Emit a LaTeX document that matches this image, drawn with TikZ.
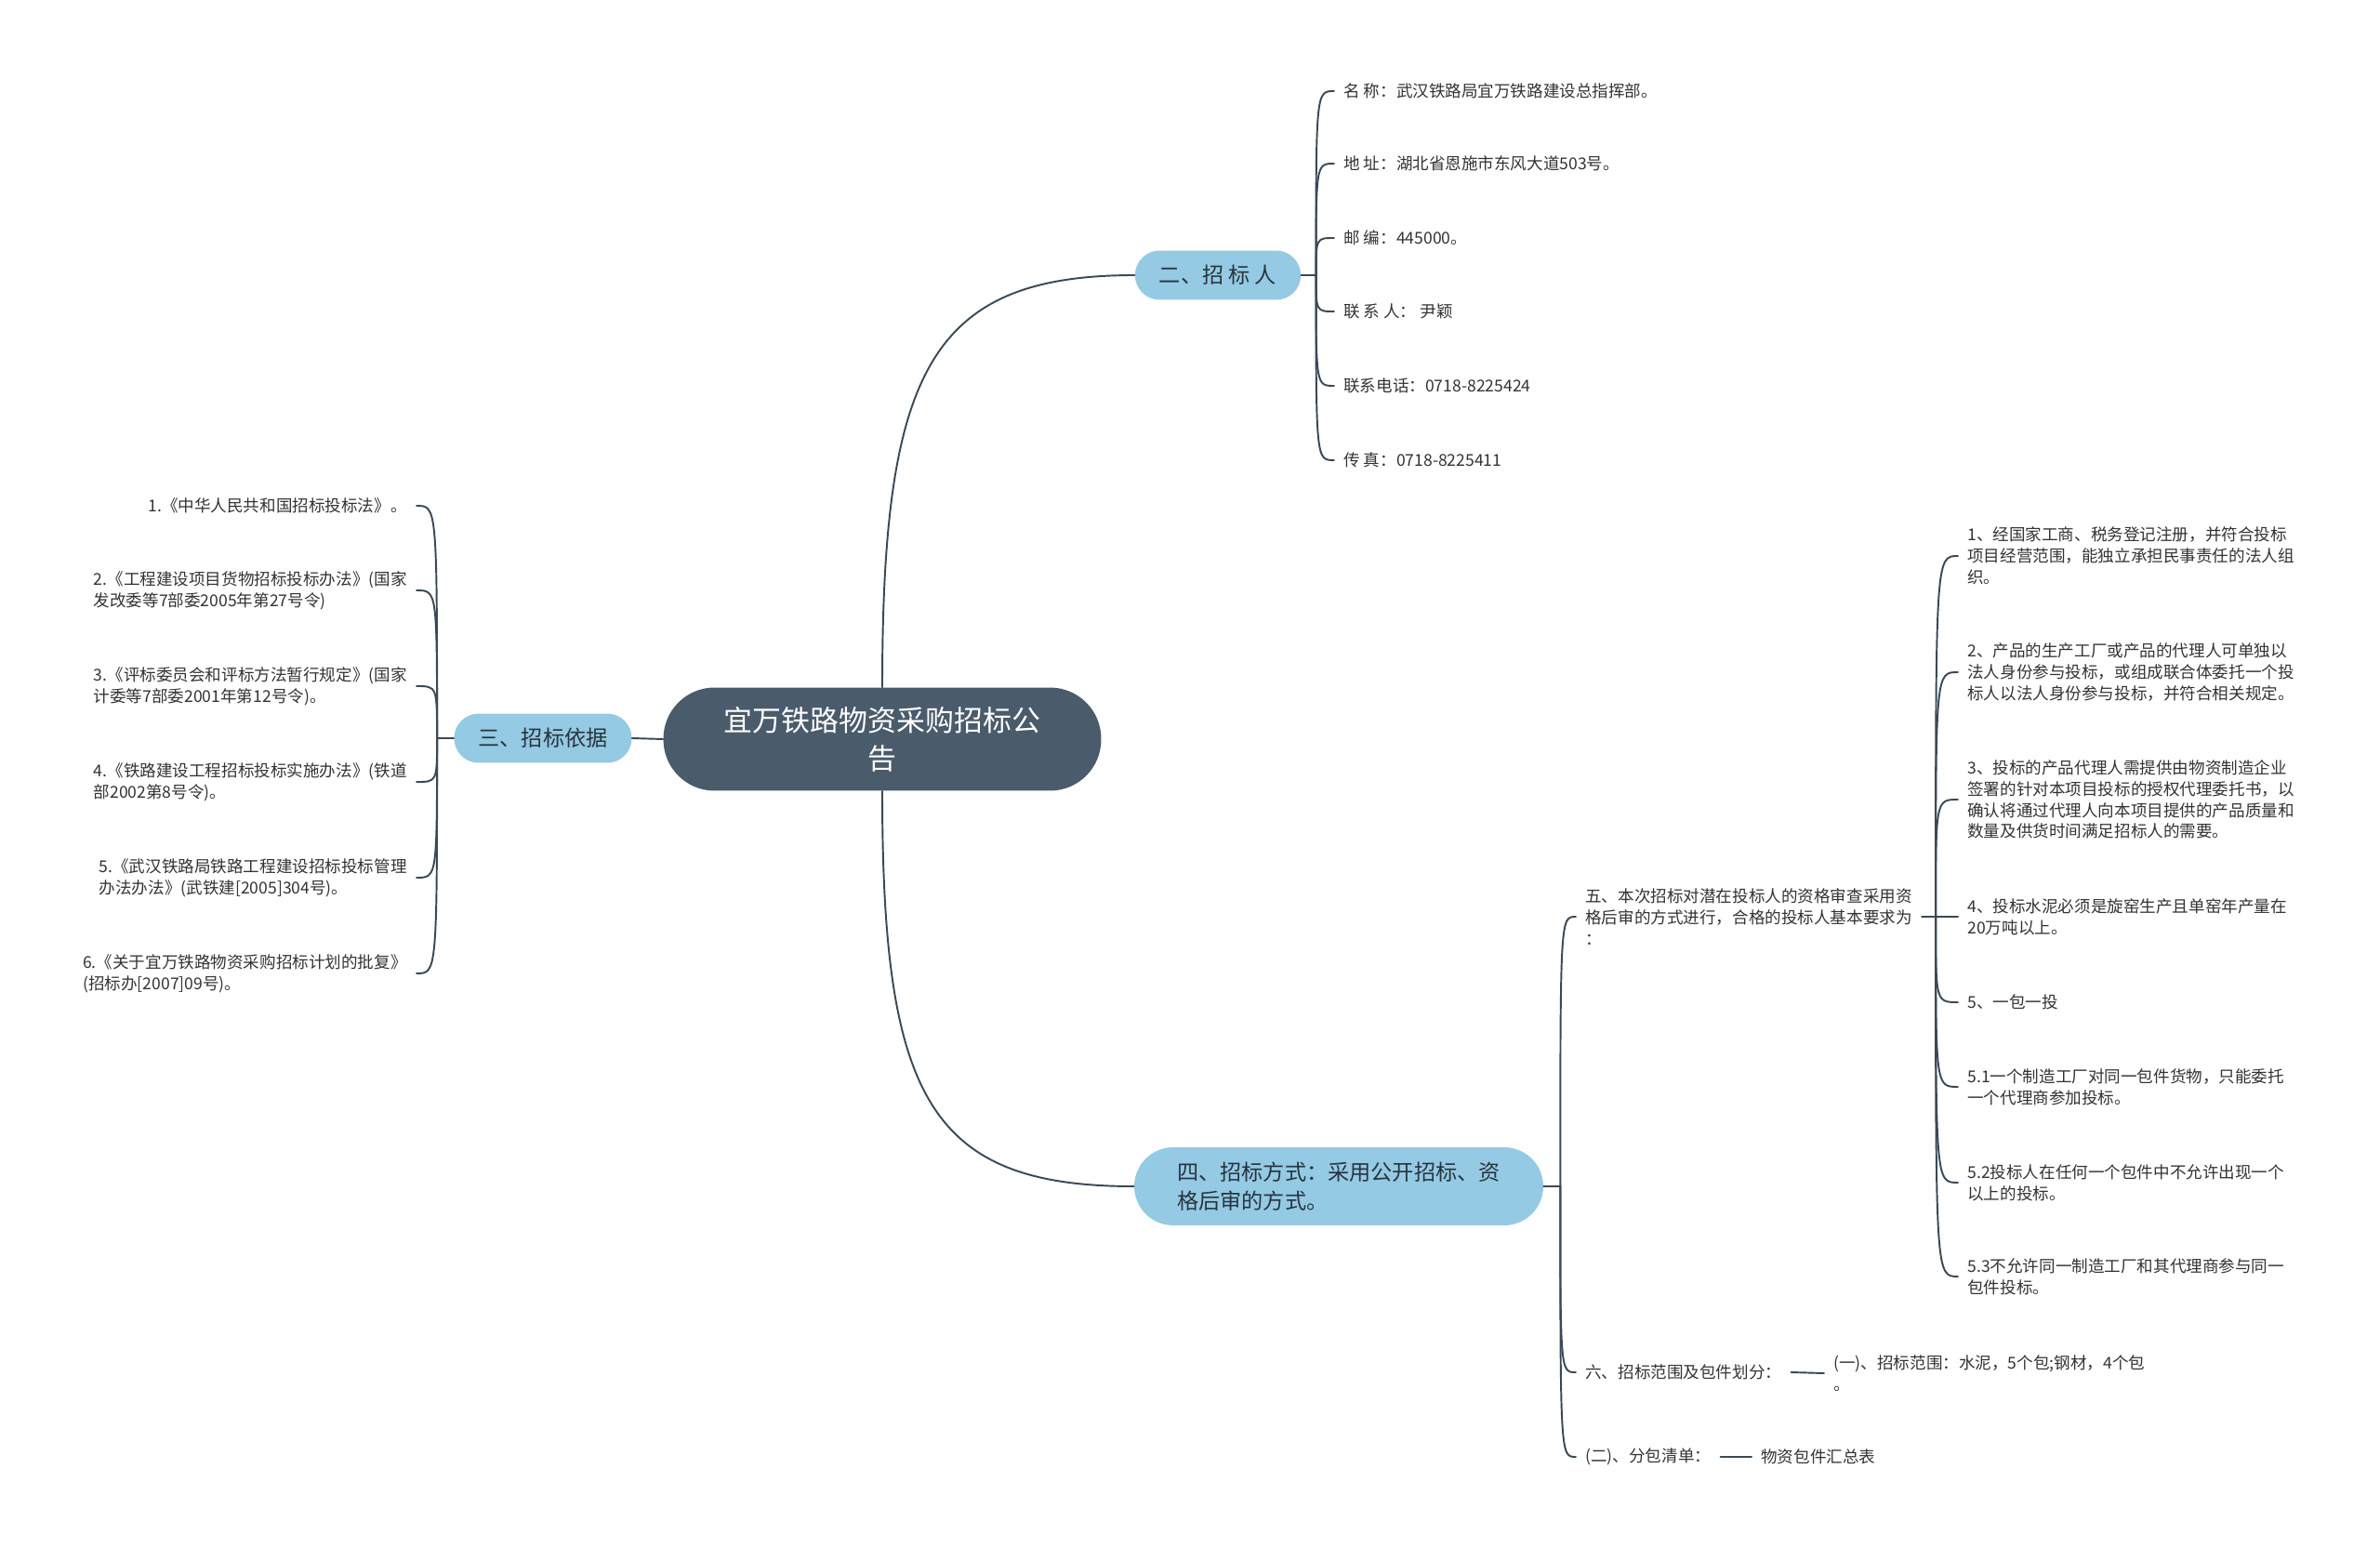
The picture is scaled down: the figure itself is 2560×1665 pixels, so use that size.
\documentclass[tikz,border=0pt]{standalone}
\usepackage{fontspec}
\setmainfont{Noto Sans CJK SC}
\usetikzlibrary{calc}
\definecolor{rootfill}{RGB}{74,91,107}
\definecolor{topicfill}{RGB}{148,202,227}
\definecolor{topicink}{RGB}{40,52,62}
\definecolor{leafink}{RGB}{51,51,51}
\definecolor{linkcol}{RGB}{58,73,87}
\tikzset{
  rootnode/.style={fill=rootfill,text=white,rounded corners=1.1cm,minimum width=9.42cm,minimum height=2.22cm,align=center,font=\fontsize{17.6pt}{23.3pt}\selectfont},
  topicnode/.style={fill=topicfill,text=topicink,rounded corners=0.53cm,minimum height=1.06cm,inner xsep=0.52cm,font=\fontsize{13.2pt}{17.6pt}\selectfont},
  leafnode/.style={text=leafink,inner xsep=0.2cm,inner ysep=0.08cm,align=left,font=\fontsize{10pt}{13pt}\selectfont},
  link/.style={draw=linkcol,line width=1.1pt},
}
\begin{document}
\begin{tikzpicture}[x=0.02cm,y=-0.02cm,line cap=round,line join=round]
\path[use as bounding box,fill=white] (0,0) rectangle (2560,1665);
% root and the three topics
\node[rootnode] (root) at (949,795) {宜万铁路物资采购招标公\\告};
\node[topicnode] (zbr) at (1310,296) {二、招 标 人};
\node[topicnode] (yiju) at (584,794) {三、招标依据};
\node[topicnode,align=left,minimum width=8.8cm,minimum height=1.68cm,rounded corners=0.84cm] (fangshi) at (1440,1276) {四、招标方式：采用公开招标、资\\格后审的方式。};
\draw[link] (root.north) .. controls ($(root.north)+(0,-340)$) and ($(zbr.west)+(-220,0)$) .. (zbr.west);
\draw[link] (root.west) -- (yiju.east);
\draw[link] (root.south) .. controls ($(root.south)+(0,330)$) and ($(fangshi.west)+(-220,0)$) .. (fangshi.west);
% tenderer
\node[leafnode,anchor=west] (zbr1) at (1435,98) {名 称：武汉铁路局宜万铁路建设总指挥部。};
\node[leafnode,anchor=west] (zbr2) at (1435,176) {地 址：湖北省恩施市东风大道503号。};
\node[leafnode,anchor=west] (zbr3) at (1435,256) {邮 编：445000。};
\node[leafnode,anchor=west] (zbr4) at (1435,335) {联 系 人：~尹颖};
\node[leafnode,anchor=west] (zbr5) at (1435,415) {联系电话：0718-8225424};
\node[leafnode,anchor=west] (zbr6) at (1435,495) {传 真：0718-8225411};
\path (zbr.east) ++(16,0) coordinate (j2);
\draw[link] (zbr.east) -- (j2);
\draw[link] (j2) .. controls (j2 |- zbr1.west) .. (zbr1.west);
\draw[link] (j2) .. controls (j2 |- zbr2.west) .. (zbr2.west);
\draw[link] (j2) .. controls (j2 |- zbr3.west) .. (zbr3.west);
\draw[link] (j2) .. controls (j2 |- zbr4.west) .. (zbr4.west);
\draw[link] (j2) .. controls (j2 |- zbr5.west) .. (zbr5.west);
\draw[link] (j2) .. controls (j2 |- zbr6.west) .. (zbr6.west);
% legal basis
\node[leafnode,anchor=east] (yj1) at (448,544) {1.《中华人民共和国招标投标法》。};
\node[leafnode,anchor=east] (yj2) at (448,635) {2.《工程建设项目货物招标投标办法》(国家\\发改委等7部委2005年第27号令)};
\node[leafnode,anchor=east] (yj3) at (448,738) {3.《评标委员会和评标方法暂行规定》(国家\\计委等7部委2001年第12号令)。};
\node[leafnode,anchor=east] (yj4) at (448,841) {4.《铁路建设工程招标投标实施办法》(铁道\\部2002第8号令)。};
\node[leafnode,anchor=east] (yj5) at (448,944) {5.《武汉铁路局铁路工程建设招标投标管理\\办法办法》(武铁建[2005]304号)。};
\node[leafnode,anchor=east] (yj6) at (448,1047) {6.《关于宜万铁路物资采购招标计划的批复》\\(招标办[2007]09号)。};
\path (yiju.west) ++(-18,0) coordinate (j3);
\draw[link] (yiju.west) -- (j3);
\draw[link] (j3) .. controls (j3 |- yj1.east) .. (yj1.east);
\draw[link] (j3) .. controls (j3 |- yj2.east) .. (yj2.east);
\draw[link] (j3) .. controls (j3 |- yj3.east) .. (yj3.east);
\draw[link] (j3) .. controls (j3 |- yj4.east) .. (yj4.east);
\draw[link] (j3) .. controls (j3 |- yj5.east) .. (yj5.east);
\draw[link] (j3) .. controls (j3 |- yj6.east) .. (yj6.east);
% tender method
\node[leafnode,anchor=west] (zige) at (1695,986) {五、本次招标对潜在投标人的资格审查采用资\\格后审的方式进行，合格的投标人基本要求为\\：};
\node[leafnode,anchor=west] (fanwei) at (1695,1476) {六、招标范围及包件划分：};
\node[leafnode,anchor=west] (qingdan) at (1695,1567) {(二)、分包清单：};
\path (fangshi.east) ++(18,0) coordinate (j4);
\draw[link] (fangshi.east) -- (j4);
\draw[link] (j4) .. controls (j4 |- zige.west) .. (zige.west);
\draw[link] (j4) .. controls (j4 |- fanwei.west) .. (fanwei.west);
\draw[link] (j4) .. controls (j4 |- qingdan.west) .. (qingdan.west);
\node[leafnode,anchor=west] (fw1) at (1962,1477) {(一)、招标范围：水泥，5个包;钢材，4个包\\。};
\node[leafnode,anchor=west] (qd1) at (1884,1567) {物资包件汇总表};
\draw[link] (fanwei.east) -- (fw1.west);
\draw[link] (qingdan.east) -- (qd1.west);
% bidder requirements
\node[leafnode,anchor=west] (zg1) at (2106,598) {1、经国家工商、税务登记注册，并符合投标\\项目经营范围，能独立承担民事责任的法人组\\织。};
\node[leafnode,anchor=west] (zg2) at (2106,723) {2、产品的生产工厂或产品的代理人可单独以\\法人身份参与投标，或组成联合体委托一个投\\标人以法人身份参与投标，并符合相关规定。};
\node[leafnode,anchor=west] (zg3) at (2106,860) {3、投标的产品代理人需提供由物资制造企业\\签署的针对本项目投标的授权代理委托书，以\\确认将通过代理人向本项目提供的产品质量和\\数量及供货时间满足招标人的需要。};
\node[leafnode,anchor=west] (zg4) at (2106,986) {4、投标水泥必须是旋窑生产且单窑年产量在\\20万吨以上。};
\node[leafnode,anchor=west] (zg5) at (2106,1078) {5、一包一投};
\node[leafnode,anchor=west] (zg6) at (2106,1169) {5.1一个制造工厂对同一包件货物，只能委托\\一个代理商参加投标。};
\node[leafnode,anchor=west] (zg7) at (2106,1272) {5.2投标人在任何一个包件中不允许出现一个\\以上的投标。};
\node[leafnode,anchor=west] (zg8) at (2106,1373) {5.3不允许同一制造工厂和其代理商参与同一\\包件投标。};
\path (zige.east) ++(15,0) coordinate (j5);
\draw[link] (zige.east) -- (j5);
\draw[link] (j5) .. controls (j5 |- zg1.west) .. (zg1.west);
\draw[link] (j5) .. controls (j5 |- zg2.west) .. (zg2.west);
\draw[link] (j5) .. controls (j5 |- zg3.west) .. (zg3.west);
\draw[link] (j5) -- (zg4.west);
\draw[link] (j5) .. controls (j5 |- zg5.west) .. (zg5.west);
\draw[link] (j5) .. controls (j5 |- zg6.west) .. (zg6.west);
\draw[link] (j5) .. controls (j5 |- zg7.west) .. (zg7.west);
\draw[link] (j5) .. controls (j5 |- zg8.west) .. (zg8.west);
\end{tikzpicture}
\end{document}
